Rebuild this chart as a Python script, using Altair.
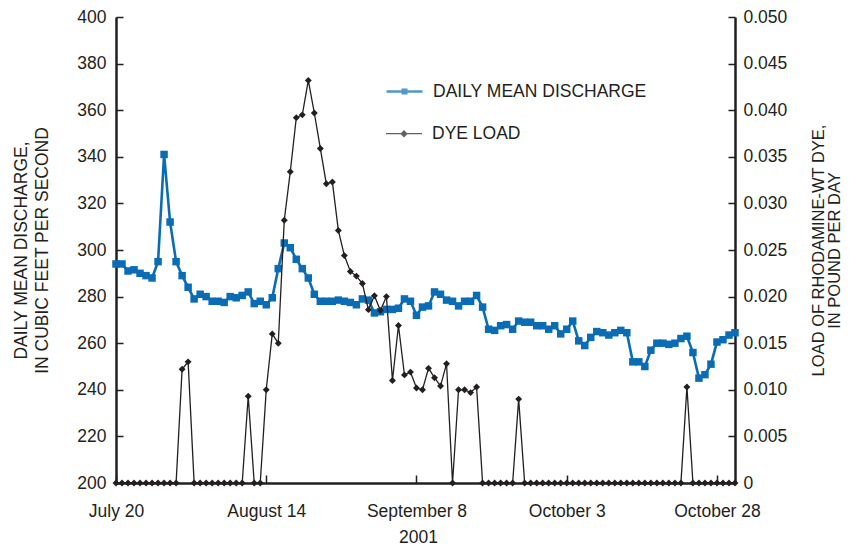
import altair as alt
import pandas as pd

# ---------------- data ----------------
start_date = "2001-07-20"
end_date = "2001-10-31"
dates = [d.strftime("%Y-%m-%d") for d in pd.date_range(start_date, end_date, freq="D")]

discharge = [
    294, 294, 291, 291.5, 290, 289, 288, 295, 341, 312,
    295, 289, 284, 279, 281, 280, 278, 278, 277.5, 280,
    279.5, 280.5, 282, 277, 278, 276.5, 279.5, 292, 303, 301,
    296, 292, 288, 281, 278, 278, 278, 278.5, 278, 277.5,
    276.5, 279, 278.5, 273, 273.5, 274.5, 274.5, 275, 279, 278,
    272, 275.5, 276, 282, 281, 278.5, 278, 276, 278, 278,
    280.5, 275.5, 266, 265.5, 267.5, 268, 266, 269.5, 269, 269,
    267.5, 267.5, 266, 267.5, 264, 266, 269.5, 261, 259, 262.5,
    265, 264.5, 263.5, 264.5, 265.5, 264.5, 252, 252, 250, 257,
    260, 260, 259.5, 260, 262, 263, 256, 245, 246.5, 251,
    260.5, 261.5, 263.5, 264.5,
]

dye_load = (
    [0] * 11
    + [0.0122, 0.0130]
    + [0] * 9
    + [0.0093, 0, 0]
    + [0.0100, 0.0160, 0.0150, 0.0282, 0.0334, 0.0392, 0.0395, 0.0432, 0.0397, 0.0359,
       0.0321, 0.0323, 0.0271, 0.0244, 0.0227, 0.0222, 0.0214, 0.0186, 0.0201, 0.0185,
       0.0200, 0.0110, 0.0169, 0.0116, 0.0119, 0.0102, 0.0100, 0.0123, 0.0113, 0.0104,
       0.0128]
    + [0]
    + [0.0100, 0.0100, 0.0097, 0.0103]
    + [0] * 6
    + [0.0090]
    + [0] * 27
    + [0.0103]
    + [0] * 8
)

series_names = ["DAILY MEAN DISCHARGE", "DYE LOAD"]
x_tick_dates = ["2001-07-20", "2001-08-14", "2001-09-08", "2001-10-03", "2001-10-28"]
left_ticks = [200, 220, 240, 260, 280, 300, 320, 340, 360, 380, 400]
right_ticks = [0, 0.005, 0.01, 0.015, 0.02, 0.025, 0.03, 0.035, 0.04, 0.045, 0.05]
left_title = ["DAILY MEAN DISCHARGE,", "IN CUBIC FEET PER SECOND"]
right_title = ["LOAD OF RHODAMINE-WT DYE,", "IN POUND PER DAY"]
x_title = "2001"

df = pd.DataFrame({"date": dates, "discharge": discharge, "dye": dye_load})
legend_df = pd.DataFrame({"series": series_names})

# ---------------- style ----------------
FONT = "Liberation Sans"
FS = 17.5
BLUE = "#0A6CB5"
DARK = "#231F20"


def dt(s):
    y, m, d = map(int, s.split("-"))
    return alt.DateTime(year=y, month=m, date=d, utc=True)


x_scale = alt.Scale(type="utc", domain=[dt(start_date), dt(end_date)])
yl_scale = alt.Scale(domain=[200, 400], nice=False, zero=False)
yr_scale = alt.Scale(domain=[0, 0.05], nice=False, zero=False)
x_vals = [dt(s) for s in x_tick_dates]

# ---------------- layers ----------------
discharge_layer = alt.Chart(df).mark_line(
    color=BLUE, strokeWidth=2.6,
    point=alt.OverlayMarkDef(shape="square", size=56, filled=True, color=BLUE),
).encode(
    x=alt.X("date:T", scale=x_scale, axis=alt.Axis(
        orient="bottom",
        values=x_vals, labelExpr="utcFormat(datum.value, '%B %-d')",
        ticks=False, tickSize=0, labelPadding=19, domain=True,
        title=x_title, titleX=302, titleY=45, titleBaseline="top",
        titleAlign="center", labelFlush=False, labelOverlap=False,
    )),
    y=alt.Y("discharge:Q", scale=yl_scale, axis=alt.Axis(
        orient="left", values=left_ticks, ticks=False, tickSize=0,
        labelPadding=10, domain=True,
        title=left_title, titleAngle=270, titleX=-104, titleY=233,
        titleAlign="center", titleBaseline="top", titleLineHeight=21,
    )),
)

dye_layer = alt.Chart(df).mark_line(
    color=DARK, strokeWidth=1.3,
    point=alt.OverlayMarkDef(shape="diamond", size=48, filled=True, color=DARK),
).encode(
    x=alt.X("date:T", scale=x_scale, axis=None),
    y=alt.Y("dye:Q", scale=yr_scale, axis=alt.Axis(
        orient="right", values=right_ticks, ticks=False, tickSize=0,
        labelPadding=8, domain=True,
        labelExpr="datum.value == 0 ? '0' : format(datum.value, '.3f')",
        title=right_title, titleAngle=270, titleX=75, titleY=233,
        titleAlign="center", titleBaseline="top", titleLineHeight=16,
        titleFontSize=16.5,
    )),
)

# inward tick marks (axes shifted into the plot)
tick_layer_left = alt.Chart(df).transform_filter("false").mark_point().encode(
    x=alt.X("date:T", scale=x_scale, axis=alt.Axis(
        orient="bottom",
        values=x_vals, labels=False, domain=False, ticks=True,
        tickSize=8, tickWidth=1.5, offset=-8, title=None)),
    y=alt.Y("discharge:Q", scale=yl_scale, axis=alt.Axis(
        orient="left", values=left_ticks, labels=False, domain=False,
        ticks=True, tickSize=7, tickWidth=1.5, offset=-7, title=None)),
)

tick_layer_right = alt.Chart(df).transform_filter("false").mark_point().encode(
    y=alt.Y("dye:Q", scale=yr_scale, axis=alt.Axis(
        orient="right", values=right_ticks, labels=False, domain=False,
        ticks=True, tickSize=7, tickWidth=1.5, offset=-7, title=None)),
)

# legend symbols: a line stub with a (stroke-filled) marker in the middle
path_sq = ("M-1,0H1"
           "M-0.097,-0.097H0.097V0.097H-0.097Z"
           "M-0.03,-0.03H0.03V0.03H-0.03Z")
path_di = ("M-1,0H1"
           "M0,-0.156L0.156,0L0,0.156L-0.156,0Z"
           "M0,-0.106L0.106,0L0,0.106L-0.106,0Z"
           "M0,-0.056L0.056,0L0,0.056L-0.056,0Z"
           "M0,-0.012L0.012,0L0,0.012L-0.012,0Z")


def legend_layer(name, path, color, sw, ly):
    return alt.Chart(legend_df).transform_filter("false").mark_point(
        filled=False, color=color, stroke=color, strokeWidth=sw, size=1296,
    ).encode(
        shape=alt.Shape("series:N", scale=alt.Scale(domain=[name], range=[path]),
                        legend=alt.Legend(
                            title=None, orient="none", legendX=269, legendY=ly,
                            padding=0, offset=0, symbolSize=1296, labelOffset=9,
                            symbolFillColor=color, symbolStrokeColor=color,
                            symbolStrokeWidth=sw, labelFontSize=FS, labelFont=FONT,
                            labelColor=DARK, labelLimit=400,
                        ))
    )


leg1 = legend_layer(series_names[0], path_sq, BLUE, 2.5, 55)
leg2 = legend_layer(series_names[1], path_di, DARK, 1.3, 97.7)

chart = alt.layer(
    discharge_layer, dye_layer, tick_layer_left, tick_layer_right, leg1, leg2
).resolve_scale(
    y="independent", shape="independent"
).resolve_axis(
    x="independent"
).properties(
    width=619, height=466,
    autosize=alt.AutoSizeParams(type="none"),
    padding={"left": 108, "top": 9, "right": 107, "bottom": 65},
).configure_view(
    fill="#ECECEC", stroke="transparent"
).configure_axis(
    labelFont=FONT, titleFont=FONT, labelFontSize=FS, titleFontSize=FS,
    labelColor=DARK, titleColor=DARK, titleFontWeight="normal", grid=False,
    domainColor=DARK, domainWidth=2.5, tickColor=DARK,
)

chart.save("out.html", embed_options={"renderer": "svg", "actions": False})
